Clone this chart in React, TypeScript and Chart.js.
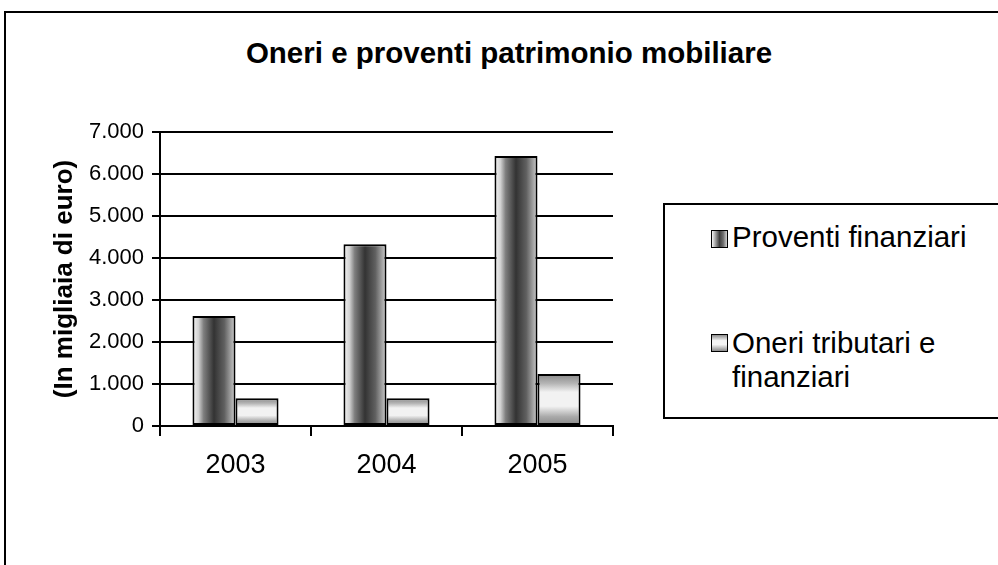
import React, { useEffect, useRef } from 'react';
import { Chart, registerables } from 'chart.js';

Chart.register(...registerables);

// ---- data ----
const categories = ['2003', '2004', '2005'];
const proventiFinanziari = [2620, 4330, 6430];
const oneriTributariFinanziari = [660, 660, 1240];
const seriesNames = ['Proventi finanziari', 'Oneri tributari e finanziari'];
const legendLines = [['Proventi finanziari'], ['Oneri tributari e', 'finanziari']];
const yMin = 0;
const yMax = 7000;
const yStep = 1000;
const chartTitle = 'Oneri e proventi patrimonio mobiliare';
const yAxisTitle = '(In migliaia di euro)';

const FONT = '"Liberation Sans", Arial, Helvetica, sans-serif';
const CAT_PCT = 0.57;

const formatThousands = (v: number) =>
  String(v).replace(/\B(?=(\d{3})+(?!\d))/g, '.');

const ok = (...v: number[]) => v.every((n) => Number.isFinite(n));

function barBox(chart: any, datasetIndex: number, dataIndex: number) {
  const xs = chart.scales.x;
  const catW = (xs.right - xs.left) / categories.length;
  const groupW = catW * CAT_PCT;
  const barW = groupW / 2;
  const center = xs.getPixelForValue(dataIndex);
  const left = center - groupW / 2 + datasetIndex * barW;
  return { left, right: left + barW };
}

function proventiFill(ctx: any) {
  const chart = ctx.chart;
  if (!chart.scales || !chart.scales.x || typeof ctx.dataIndex !== 'number') return '#666';
  const { left, right } = barBox(chart, ctx.datasetIndex, ctx.dataIndex);
  if (!ok(left, right) || right - left < 1) return '#666';
  const g = chart.ctx.createLinearGradient(left, 0, right, 0);
  g.addColorStop(0, '#f6f6f6');
  g.addColorStop(0.14, '#d2d2d2');
  g.addColorStop(0.26, '#7e7e7e');
  g.addColorStop(0.5, '#333333');
  g.addColorStop(0.74, '#606060');
  g.addColorStop(0.9, '#a4a4a4');
  g.addColorStop(1, '#d0d0d0');
  return g;
}

function oneriFill(ctx: any) {
  const chart = ctx.chart;
  if (!chart.scales || !chart.scales.y || typeof ctx.dataIndex !== 'number') return '#ccc';
  const ys = chart.scales.y;
  const top = ys.getPixelForValue(Number(ctx.raw));
  const bottom = ys.getPixelForValue(0);
  if (!ok(top, bottom) || bottom - top < 1) return '#ccc';
  const g = chart.ctx.createLinearGradient(0, top, 0, bottom);
  g.addColorStop(0, '#888888');
  g.addColorStop(0.18, '#b4b4b4');
  g.addColorStop(0.35, '#f2f2f2');
  g.addColorStop(0.62, '#f2f2f2');
  g.addColorStop(0.82, '#aaaaaa');
  g.addColorStop(1, '#868686');
  return g;
}

const swatchStyles: React.CSSProperties[] = [
  {
    background:
      'linear-gradient(to right, #f6f6f6 0%, #9a9a9a 25%, #3e3e3e 50%, #6e6e6e 75%, #d0d0d0 100%)',
  },
  {
    background:
      'linear-gradient(to bottom, #8c8c8c 0%, #f4f4f4 35%, #f4f4f4 60%, #8a8a8a 100%)',
  },
];

export default function App() {
  const canvasRef = useRef<HTMLCanvasElement | null>(null);

  useEffect(() => {
    const canvas = canvasRef.current;
    if (!canvas) return;
    const chart = new Chart(canvas, {
      type: 'bar',
      data: {
        labels: categories,
        datasets: [
          {
            label: seriesNames[0],
            data: proventiFinanziari,
            backgroundColor: proventiFill as any,
            borderColor: '#000',
            borderWidth: 2,
            borderSkipped: false,
            categoryPercentage: CAT_PCT,
            barPercentage: 1,
          },
          {
            label: seriesNames[1],
            data: oneriTributariFinanziari,
            backgroundColor: oneriFill as any,
            borderColor: '#000',
            borderWidth: 2,
            borderSkipped: false,
            categoryPercentage: CAT_PCT,
            barPercentage: 1,
          },
        ],
      },
      options: {
        animation: false,
        responsive: false,
        maintainAspectRatio: false,
        layout: { padding: { left: 0, right: 385, top: 132, bottom: 0 } },
        plugins: {
          legend: { display: false },
          tooltip: { enabled: false },
          title: { display: false },
        },
        scales: {
          x: {
            grid: {
              display: true,
              drawOnChartArea: false,
              drawTicks: true,
              tickLength: 10,
              color: '#000',
              lineWidth: 2,
              offset: true,
            },
            border: { display: true, color: '#000', width: 2 },
            ticks: { font: { family: FONT, size: 27 }, color: '#000', padding: 13 },
            afterFit: (s: any) => {
              s.height = 139;
            },
          },
          y: {
            min: yMin,
            max: yMax,
            ticks: {
              stepSize: yStep,
              callback: (v: any) => formatThousands(Number(v)),
              font: { family: FONT, size: 22 },
              color: '#000',
              padding: 8,
            },
            grid: { color: '#000', lineWidth: 2, tickLength: 8, drawTicks: true },
            border: { display: true, color: '#000', width: 2 },
            title: {
              display: true,
              text: yAxisTitle,
              font: { family: FONT, size: 26, weight: 'bold' },
              color: '#000',
              padding: { top: 49, bottom: 0 },
            },
            afterFit: (s: any) => {
              s.width = 160;
            },
          },
        },
      },
    });
    return () => chart.destroy();
  }, []);

  return (
    <div
      style={{
        position: 'fixed',
        left: 0,
        top: 0,
        width: 998,
        height: 565,
        overflow: 'hidden',
        background: '#fff',
        fontFamily: FONT,
        color: '#000',
      }}
    >
      <div
        style={{
          position: 'absolute',
          left: 4,
          top: 11,
          width: 1200,
          height: 800,
          border: '2px solid #000',
          boxSizing: 'border-box',
        }}
      />
      <div
        style={{
          position: 'absolute',
          left: 0,
          top: 38,
          width: 1018,
          textAlign: 'center',
          fontSize: 29.5,
          lineHeight: '29.5px',
          fontWeight: 'bold',
          whiteSpace: 'nowrap',
        }}
      >
        {chartTitle}
      </div>
      <canvas
        ref={canvasRef}
        width={998}
        height={565}
        style={{ position: 'absolute', left: 0, top: 0, width: 998, height: 565, display: 'block' }}
      />
      <div
        style={{
          position: 'absolute',
          left: 663,
          top: 203,
          width: 400,
          height: 216,
          border: '2px solid #000',
          boxSizing: 'border-box',
          background: '#fff',
        }}
      />
      {legendLines.map((lines, i) => {
        const swTop = i === 0 ? 230 : 334;
        const txtTop = i === 0 ? 220 : 326;
        return (
          <React.Fragment key={i}>
            <div
              style={{
                position: 'absolute',
                left: 711,
                top: swTop,
                width: 17,
                height: 18,
                border: '1.5px solid #000',
                boxSizing: 'border-box',
                ...swatchStyles[i],
              }}
            />
            <div
              style={{
                position: 'absolute',
                left: 732,
                top: txtTop,
                fontSize: 29.5,
                lineHeight: '34px',
                whiteSpace: 'nowrap',
              }}
            >
              {lines.map((l, j) => (
                <div key={j}>{l}</div>
              ))}
            </div>
          </React.Fragment>
        );
      })}
    </div>
  );
}
